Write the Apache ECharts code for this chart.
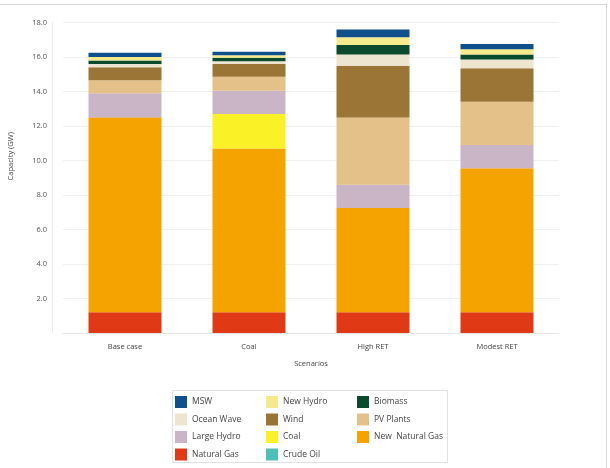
<!DOCTYPE html>
<html>
<head>
<meta charset="utf-8">
<script src="https://cdn.jsdelivr.net/npm/echarts@6/dist/echarts.min.js"></script>
<style>html,body{margin:0;padding:0;background:#fff}#c{width:610px;height:468px}</style>
</head>
<body>
<div id="c"></div>
<script>
var categories = ['Base case', 'Coal', 'High RET', 'Modest RET'];
var naturalGas    = [1.2, 1.2, 1.2, 1.2];
var newNaturalGas = [11.3, 9.5, 6.05, 8.35];
var crudeOil      = [0, 0, 0, 0];
var coal          = [0, 2.0, 0, 0];
var largeHydro    = [1.4, 1.35, 1.35, 1.35];
var pvPlants      = [0.75, 0.8, 3.9, 2.5];
var wind          = [0.75, 0.75, 3.0, 1.95];
var oceanWave     = [0.2, 0.15, 0.65, 0.5];
var biomass       = [0.2, 0.2, 0.55, 0.3];
var newHydro      = [0.2, 0.15, 0.45, 0.3];
var msw           = [0.25, 0.2, 0.45, 0.3];
var yTicks = [0, 2, 4, 6, 8, 10, 12, 14, 16, 18];

var colors = {
  'Natural Gas': '#df3a15',
  'New  Natural Gas': '#f4a301',
  'Crude Oil': '#4dbfb7',
  'Coal': '#faf227',
  'Large Hydro': '#c9b5c5',
  'PV Plants': '#e3c189',
  'Wind': '#9a7536',
  'Ocean Wave': '#eee5d1',
  'Biomass': '#0c4a2d',
  'New Hydro': '#f5ea8c',
  'MSW': '#0f4f8a'
};
var seriesDefs = [
  ['Natural Gas', naturalGas],
  ['New  Natural Gas', newNaturalGas],
  ['Crude Oil', crudeOil],
  ['Coal', coal],
  ['Large Hydro', largeHydro],
  ['PV Plants', pvPlants],
  ['Wind', wind],
  ['Ocean Wave', oceanWave],
  ['Biomass', biomass],
  ['New Hydro', newHydro],
  ['MSW', msw]
];

var chart = echarts.init(document.getElementById('c'));
var legendText = {fontSize: 8.5, color: '#444', fontFamily: 'Open Sans'};
function legend(left, data) {
  return {
    orient: 'vertical', left: left, top: 396, itemWidth: 12, itemHeight: 12,
    itemGap: 5.5, icon: 'rect', textStyle: legendText, data: data, padding: 0,
    selectedMode: false
  };
}
chart.setOption({
  animation: false,
  grid: {left: 63, right: 51, top: 22.5, bottom: 135, outerBoundsMode: 'none', containLabel: false},
  xAxis: {
    type: 'category', data: categories,
    name: 'Scenarios', nameLocation: 'middle', nameGap: 27,
    nameTextStyle: {fontSize: 7.5, color: '#444', fontFamily: 'Open Sans'},
    axisLine: {lineStyle: {color: '#e6e6e6'}},
    axisTick: {show: false},
    axisLabel: {fontSize: 7.5, color: '#444', margin: 10, fontFamily: 'Open Sans'}
  },
  yAxis: {
    type: 'value', min: 0, max: 18, interval: 2,
    name: 'Capacity (GW)', nameLocation: 'middle', nameGap: 48, nameRotate: 90,
    nameTextStyle: {fontSize: 7.5, color: '#444', fontFamily: 'Open Sans', padding: [0, 0, 0, 43]},
    axisLine: {show: false},
    axisTick: {show: false},
    splitLine: {lineStyle: {color: '#f0f0f0'}},
    axisLabel: {
      fontSize: 7.5, color: '#555', margin: 16, fontFamily: 'Open Sans',
      formatter: function (v) { return v === 0 ? '' : v.toFixed(1); }
    }
  },
  legend: [
    legend(175, ['MSW', 'Ocean Wave', 'Large Hydro', 'Natural Gas']),
    legend(266, ['New Hydro', 'Wind', 'Coal', 'Crude Oil']),
    legend(357, ['Biomass', 'PV Plants', 'New  Natural Gas'])
  ],
  graphic: [
    {type: 'rect', shape: {x: 172.5, y: 390.5, width: 275, height: 72}, style: {fill: 'none', stroke: '#e2e2e2', lineWidth: 1}, silent: true},
    {type: 'line', shape: {x1: 0, y1: 4.5, x2: 606, y2: 4.5}, style: {stroke: '#d8d8d8', lineWidth: 1}, silent: true},
    {type: 'line', shape: {x1: 606.5, y1: 4, x2: 606.5, y2: 468}, style: {stroke: '#d8d8d8', lineWidth: 1}, silent: true},
    {type: 'line', shape: {x1: 52.5, y1: 22, x2: 52.5, y2: 333}, style: {stroke: '#ececec', lineWidth: 1}, silent: true}
  ],
  series: seriesDefs.map(function (d) {
    return {
      name: d[0], type: 'bar', stack: 'total', data: d[1], barWidth: 73,
      itemStyle: {color: colors[d[0]]}
    };
  })
});
</script>
</body>
</html>
